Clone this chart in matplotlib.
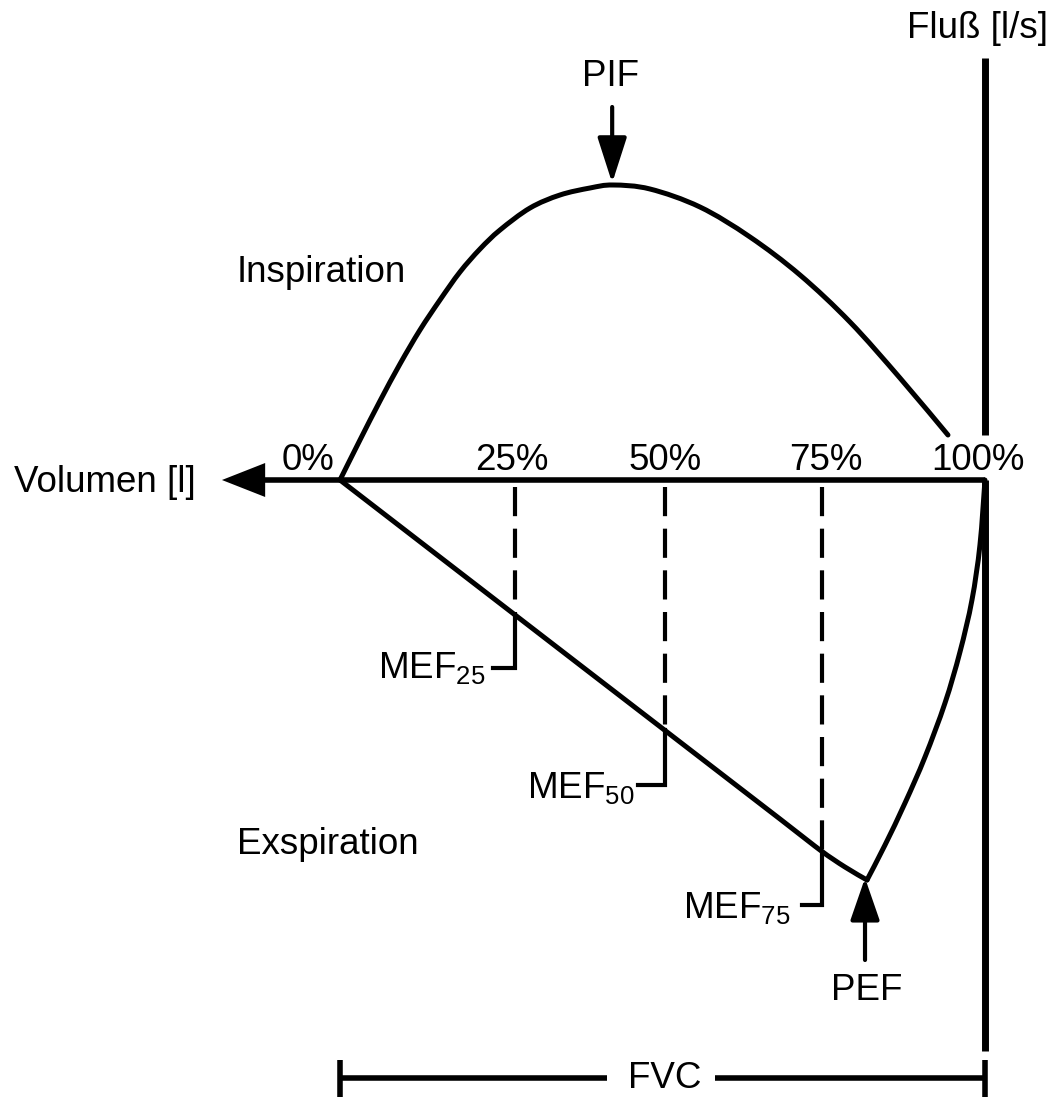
import matplotlib
matplotlib.use("Agg")
import matplotlib.pyplot as plt
from matplotlib.patches import Polygon, PathPatch
from matplotlib.path import Path

plt.rcParams['font.family'] = ['Liberation Sans', 'DejaVu Sans']
plt.rcParams['mathtext.fontset'] = 'custom'
plt.rcParams['mathtext.rm'] = 'Liberation Sans'
plt.rcParams['mathtext.it'] = 'Liberation Sans'

# ---- data (x: % of FVC, y: flow in l/s, schematic) ----
insp_x = [0, 3.10, 6.20, 9.30, 12.40, 15.50, 18.60, 21.71, 24.81, 29.46, 34.11,
          38.76, 42.33, 48.06, 55.81, 63.57, 71.32, 79.07, 86.82, 94.26]
insp_y = [0, 0.40, 0.79, 1.16, 1.50, 1.80, 2.08, 2.31, 2.50, 2.72, 2.85,
          2.92, 2.95, 2.91, 2.73, 2.43, 2.05, 1.58, 1.02, 0.45]
exsp_x = [0, 37.21, 68.22, 74.42, 78.29, 81.71,
          84.50, 87.60, 90.70, 93.80, 96.12, 97.98, 99.22, 100]
exsp_y = [0, -1.85, -3.39, -3.70, -3.87, -4.00,
          -3.65, -3.23, -2.77, -2.23, -1.72, -1.20, -0.65, 0]

pct_labels = ["0%", "25%", "50%", "75%", "100%"]
pct_label_x = [-5.0, 26.7, 50.4, 75.3, 98.9]

mef_labels = ["25", "50", "75"]
mef_x = [27.1, 50.4, 74.8]          # volume positions of MEF markers
mef_cross_y = [-1.36, -2.50, -3.72]  # flow where dashed line meets curve
mef_bracket_y = [-1.88, -3.05, -4.25]
mef_bracket_end_x = [23.7, 46.2, 71.6]
mef_text_x = [22.5, 45.7, 69.8]
mef_text_y = [-1.98, -3.18, -4.38]

pif_x, pif_y = 42.2, 2.97
pef_x, pef_y = 81.4, -3.98

# ---- figure ----
fig = plt.figure(figsize=(10.54, 10.97), dpi=100)
ax = fig.add_axes([0, 0, 1, 1])
ax.set_xlim(-52.71, 110.70)
ax.set_ylim(-6.17, 4.80)
ax.axis('off')

K = 'black'
FS = 26.5


def smooth_path(xs, ys):
    """Catmull-Rom spline through the given points, as Bezier path."""
    pts = list(zip(xs, ys))
    verts = [pts[0]]
    codes = [Path.MOVETO]
    n = len(pts)
    for i in range(n - 1):
        p0 = pts[i - 1] if i > 0 else pts[i]
        p1 = pts[i]
        p2 = pts[i + 1]
        p3 = pts[i + 2] if i + 2 < n else pts[i + 1]
        c1 = (p1[0] + (p2[0] - p0[0]) / 6, p1[1] + (p2[1] - p0[1]) / 6)
        c2 = (p2[0] - (p3[0] - p1[0]) / 6, p2[1] - (p3[1] - p1[1]) / 6)
        verts += [c1, c2, p2]
        codes += [Path.CURVE4] * 3
    return Path(verts, codes)


# axes lines
ax.plot([-12.0, 100], [0, 0], color=K, lw=4, solid_capstyle='butt')
ax.add_patch(Polygon([[-18.3, 0], [-11.6, 0.17], [-11.6, -0.17]], closed=True,
                     color=K, lw=0))
ax.plot([100, 100], [4.22, 0.45], color=K, lw=5, solid_capstyle='butt')
ax.plot([100, 100], [0, -5.71], color=K, lw=5, solid_capstyle='butt')

# curves
ax.add_patch(PathPatch(smooth_path(insp_x, insp_y), fill=False, edgecolor=K,
                       lw=3.6, capstyle='round', joinstyle='round'))
# expiration: smooth the two branches separately, sharp corner at PEF
k = exsp_y.index(min(exsp_y))
ax.add_patch(PathPatch(smooth_path(exsp_x[:k + 1], exsp_y[:k + 1]), fill=False,
                       edgecolor=K, lw=3.6, capstyle='round', joinstyle='round'))
ax.add_patch(PathPatch(smooth_path(exsp_x[k:], exsp_y[k:]), fill=False,
                       edgecolor=K, lw=3.6, capstyle='round', joinstyle='round'))

# percentage labels
for lab, x in zip(pct_labels, pct_label_x):
    ax.text(x, 0.20, lab, fontsize=FS, ha='center', va='center')

# MEF markers
for lab, x, yc, yb, xe, tx, ty in zip(mef_labels, mef_x, mef_cross_y,
                                      mef_bracket_y, mef_bracket_end_x,
                                      mef_text_x, mef_text_y):
    ax.plot([x, x], [-0.07, yc], color=K, lw=3, dashes=(7, 3))
    ax.plot([x, x, xe], [yc, yb, yb], color=K, lw=3, solid_joinstyle='miter')
    ax.text(tx, ty, "MEF$_{%s}$" % lab, fontsize=FS, ha='right', va='baseline')

# PIF / PEF arrows
ax.annotate("", xy=(pif_x, pif_y), xytext=(pif_x, 3.73),
            arrowprops=dict(arrowstyle='-|>,head_length=1.4,head_width=0.45',
                            mutation_scale=20, color=K, lw=3,
                            shrinkA=0, shrinkB=0))
ax.text(41.9, 4.03, "PIF", fontsize=FS, ha='center', va='center')
ax.annotate("", xy=(pef_x, pef_y), xytext=(pef_x, -4.80),
            arrowprops=dict(arrowstyle='-|>,head_length=1.3,head_width=0.45',
                            mutation_scale=20, color=K, lw=3,
                            shrinkA=0, shrinkB=0))
ax.text(81.7, -5.10, "PEF", fontsize=FS, ha='center', va='center')

# region labels
ax.text(-16.0, 2.08, "Inspiration", fontsize=FS, ha='left', va='center')
ax.text(-16.0, -3.64, "Exspiration", fontsize=FS, ha='left', va='center')
ax.text(-36.4, -0.03, "Volumen [l]", fontsize=FS, ha='center', va='center')
ax.text(98.8, 4.52, "Fluß [l/s]", fontsize=FS, ha='center', va='center')

# FVC bar
ax.plot([0, 41.4], [-5.98, -5.98], color=K, lw=4, solid_capstyle='butt')
ax.plot([58.1, 100], [-5.98, -5.98], color=K, lw=4, solid_capstyle='butt')
ax.plot([0, 0], [-5.80, -6.17], color=K, lw=4, solid_capstyle='butt')
ax.plot([100, 100], [-5.80, -6.17], color=K, lw=4, solid_capstyle='butt')
ax.text(50.4, -5.98, "FVC", fontsize=FS, ha='center', va='center')

fig.savefig("out.png", dpi=100, facecolor='white')
